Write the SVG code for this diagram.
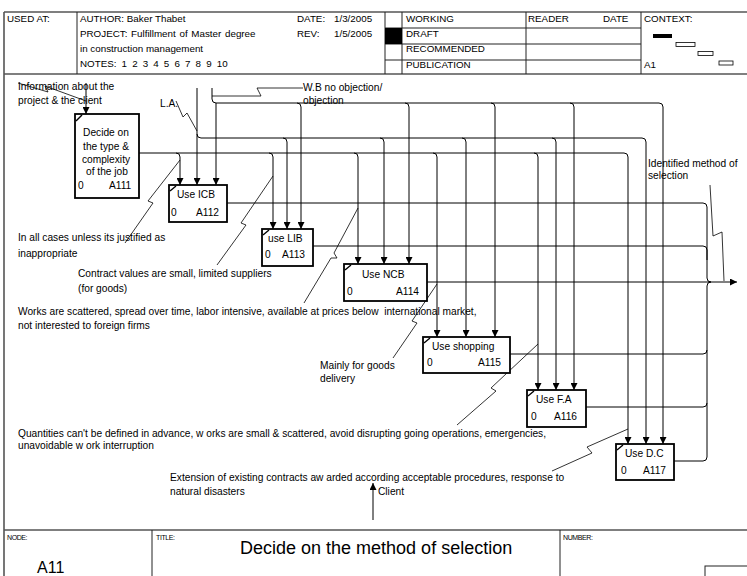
<svg xmlns="http://www.w3.org/2000/svg" width="747" height="576" viewBox="0 0 747 576">
  <defs>
    <style>
      text { font-family: "Liberation Sans", Arial, sans-serif; font-size: 10.2px; fill: #000; }
      .hd { font-size: 9.8px; }
      .sm { font-size: 7px; letter-spacing: -0.4px; }
      .frame { fill: none; stroke: #555; stroke-width: 1.6; }
      .grid { fill: none; stroke: #222; stroke-width: 1; }
      .box { fill: #fff; stroke: #000; stroke-width: 1.8; }
      .tick { stroke: #000; stroke-width: 1.4; }
      .ln { fill: none; stroke: #000; stroke-width: 1; }
      .ar { fill: none; stroke: #000; stroke-width: 1; marker-end: url(#ah); }
      .sq { fill: none; stroke: #000; stroke-width: 0.8; }
    </style>
    <marker id="ah" viewBox="0 0 10 10" refX="10" refY="5" markerUnits="userSpaceOnUse" markerWidth="9" markerHeight="7" orient="auto">
      <path d="M0,0 L10,5 L0,10 z" fill="#000"/>
    </marker>
    <clipPath id="clipNotes"><rect x="0" y="55" width="233" height="20"/></clipPath>
    <clipPath id="clipExt"><rect x="160" y="465" width="407" height="20"/></clipPath>
  </defs>

  <!-- header form -->
  <g id="header">
    <path class="frame" d="M4,12 H747 M4,74 H747 M4,12 V576"/>
    <path class="grid" d="M77,12 V74 M385,12 V74 M402,12 V74 M526,12 V74 M641,12 V74 M385,28 H641 M385,44 H641 M385,60 H641"/>
    <rect x="385" y="28" width="17" height="16" fill="#000"/>
    <text class="hd" x="7" y="21.5">USED AT:</text>
    <text class="hd" x="80" y="21.5">AUTHOR:  Baker Thabet</text>
    <text class="hd" x="80" y="36.5" word-spacing="1">PROJECT:  Fulfillment of Master degree</text>
    <text class="hd" x="80" y="51.5">in construction management</text>
    <text class="hd" x="80" y="67" clip-path="url(#clipNotes)" word-spacing="2.4">NOTES: 1 2 3 4 5 6 7 8 9 10</text>
    <text class="hd" x="297" y="21.5">DATE:</text>
    <text class="hd" x="334" y="21.5">1/3/2005</text>
    <text class="hd" x="297" y="36.5">REV:</text>
    <text class="hd" x="334" y="36.5">1/5/2005</text>
    <text class="hd" x="406" y="21.5">WORKING</text>
    <text class="hd" x="406" y="36.5">DRAFT</text>
    <text class="hd" x="406" y="52">RECOMMENDED</text>
    <text class="hd" x="406" y="68">PUBLICATION</text>
    <text class="hd" x="528" y="21.5">READER</text>
    <text class="hd" x="603" y="21.5">DATE</text>
    <text class="hd" x="644" y="21.5">CONTEXT:</text>
    <text class="hd" x="644" y="68">A1</text>
    <rect x="653" y="34" width="19" height="4" fill="#000"/>
    <rect x="676" y="42.5" width="19" height="4" fill="#fff" stroke="#000" stroke-width="0.8"/>
    <rect x="698" y="51.5" width="15" height="4" fill="#fff" stroke="#000" stroke-width="0.8"/>
    <rect x="719" y="61" width="14" height="4" fill="#fff" stroke="#000" stroke-width="0.8"/>
  </g>

  <!-- footer form -->
  <g id="footer">
    <path class="frame" d="M4,530 H747"/>
    <path class="grid" d="M152,530 V576 M560,530 V576"/>
    <rect x="705" y="566" width="45" height="14" fill="none" stroke="#222" stroke-width="1"/>
    <text class="sm" x="7" y="540">NODE:</text>
    <text class="sm" x="156" y="540">TITLE:</text>
    <text class="sm" x="563" y="540">NUMBER:</text>
    <text x="240" y="554" style="font-size:18px">Decide on the method of selection</text>
    <text x="37" y="573" style="font-size:16px">A11</text>
  </g>

  <!-- connectors -->
  <g id="connectors">
    <!-- input to A111 -->
    <path class="ar" d="M86,83 V114"/>
    <!-- W.B no objection control -->
    <path class="ar" d="M212,88 V99 Q212,103 216,103 H659 Q663,103 663,107 V444"/>
    <path class="ar" d="M216,103 V185"/>
    <path class="ar" d="M297,103 Q301,103 301,107 V229"/>
    <path class="ar" d="M405,103 Q409,103 409,107 V264"/>
    <path class="ar" d="M491,103 Q495,103 495,107 V337"/>
    <path class="ar" d="M570,103 Q574,103 574,107 V390"/>
    <!-- L.A. control -->
    <path class="ar" d="M197,88 V185"/>
    <path class="ar" d="M197,134 Q197,138 201,138 H642 Q646,138 646,142 V444"/>
    <path class="ar" d="M283,138 Q287,138 287,142 V229"/>
    <path class="ar" d="M380,138 Q384,138 384,142 V264"/>
    <path class="ar" d="M462,138 Q466,138 466,142 V337"/>
    <path class="ar" d="M552,138 Q556,138 556,142 V390"/>
    <!-- A111 output feeding the selection activities -->
    <path class="ar" d="M139,153 H624 Q628,153 628,157 V444"/>
    <path class="ar" d="M176,153 Q180,153 180,157 V185"/>
    <path class="ar" d="M269,153 Q273,153 273,157 V229"/>
    <path class="ar" d="M354,153 Q358,153 358,157 V264"/>
    <path class="ar" d="M433,153 Q437,153 437,157 V337"/>
    <path class="ar" d="M534,153 Q538,153 538,157 V390"/>
    <!-- outputs merging into the identified method -->
    <path class="ln" d="M227,203 H703 Q707,203 707,207 V278 Q707,282 711,282"/>
    <path class="ln" d="M313,246 H703 Q707,246 707,250 V260"/>
    <path class="ar" d="M427,282 H737"/>
    <path class="ln" d="M510,354 H703 Q707,354 707,350 V286 Q707,282 711,282"/>
    <path class="ln" d="M586,407 H703 Q707,407 707,403 V350"/>
    <path class="ln" d="M674,461 H703 Q707,461 707,457 V403"/>
    <!-- mechanism -->
    <path class="ar" d="M373,520 V483"/>
    <!-- label squiggles -->
    <path class="sq" d="M18,83 L48,92 L45,86 L86,101"/>
    <path class="sq" d="M176,101 L183,117 L187,113 L197,131"/>
    <path class="sq" d="M303,88 H257 L261,96 H212"/>
    <path class="sq" d="M710,185 L713,236 L722,232 L724,281"/>
    <path class="sq" d="M125,243 L153,203 L148,201 L180,160"/>
    <path class="sq" d="M217,265 L246,225 L241,223 L273,176"/>
    <path class="sq" d="M304,303 L331,258 L337,258 L334,253 L358,208"/>
    <path class="sq" d="M393,358 L417,323 L412,321 L437,284"/>
    <path class="sq" d="M457,425 L496,391 L491,388 L538,344"/>
    <path class="sq" d="M552,471 L592,453 L587,447 L628,429"/>
  </g>

  <!-- arrow labels -->
  <g id="labels">
    <text x="18" y="90">Information about the</text>
    <text x="18" y="104">project &amp; the client</text>
    <text x="160" y="106.5">L.A.</text>
    <text x="303" y="91">W.B no objection/</text>
    <text x="303" y="103.5">objection</text>
    <text x="648" y="167">Identified method of</text>
    <text x="648" y="178.5">selection</text>
    <text x="18" y="240.5">In all cases unless its justified as</text>
    <text x="18" y="256.5">inappropriate</text>
    <text x="78" y="276.5">Contract values are small, limited suppliers</text>
    <text x="78" y="291.5">(for goods)</text>
    <text x="18" y="314.5" xml:space="preserve">Works are scattered, spread over time, labor intensive, available at prices below  international market,</text>
    <text x="18" y="328.5">not interested to foreign firms</text>
    <text x="320" y="368.5">Mainly for goods</text>
    <text x="320" y="382">delivery</text>
    <text x="18" y="436.5">Quantities can't be defined in advance, w orks are small &amp; scattered, avoid disrupting going operations, emergencies,</text>
    <text x="18" y="448.5">unavoidable w ork interruption</text>
    <text x="170" y="480.5" clip-path="url(#clipExt)">Extension of existing contracts aw arded according acceptable procedures, response to</text>
    <text x="170" y="494.5">natural disasters</text>
    <text x="378" y="494.5">Client</text>
  </g>

  <!-- activity boxes -->
  <g id="A111">
    <rect class="box" x="75" y="114" width="64" height="84"/>
    <line class="tick" x1="76" y1="121" x2="82" y2="115"/>
    <text x="106" y="136" text-anchor="middle">Decide on</text>
    <text x="106" y="149.5" text-anchor="middle">the type &amp;</text>
    <text x="106" y="162.5" text-anchor="middle">complexity</text>
    <text x="107" y="175" text-anchor="middle">of the job</text>
    <text x="78" y="189">0</text>
    <text x="109" y="189">A111</text>
  </g>
  <g id="A112">
    <rect class="box" x="169" y="185" width="58" height="37"/>
    <line class="tick" x1="170" y1="191" x2="176" y2="186"/>
    <text x="177" y="197.5">Use ICB</text>
    <text x="171" y="215.5">0</text>
    <text x="196" y="215.5">A112</text>
  </g>
  <g id="A113">
    <rect class="box" x="262" y="229" width="51" height="37"/>
    <line class="tick" x1="263" y1="235" x2="269" y2="230"/>
    <text x="268" y="241.5">use LIB</text>
    <text x="265" y="257.5">0</text>
    <text x="282" y="257.5">A113</text>
  </g>
  <g id="A114">
    <rect class="box" x="344" y="264" width="83" height="37"/>
    <line class="tick" x1="345" y1="270" x2="351" y2="265"/>
    <text x="362" y="277.5">Use NCB</text>
    <text x="347" y="294.5">0</text>
    <text x="396" y="294.5">A114</text>
  </g>
  <g id="A115">
    <rect class="box" x="423" y="337" width="87" height="36"/>
    <line class="tick" x1="424" y1="343" x2="430" y2="338"/>
    <text x="432" y="349.5">Use shopping</text>
    <text x="427" y="365.5">0</text>
    <text x="478" y="365.5">A115</text>
  </g>
  <g id="A116">
    <rect class="box" x="527" y="390" width="59" height="37"/>
    <line class="tick" x1="528" y1="396" x2="534" y2="391"/>
    <text x="536" y="402.5">Use F.A</text>
    <text x="531" y="419.5">0</text>
    <text x="554" y="419.5">A116</text>
  </g>
  <g id="A117">
    <rect class="box" x="616" y="444" width="58" height="36"/>
    <line class="tick" x1="617" y1="450" x2="623" y2="445"/>
    <text x="625" y="456.5">Use D.C</text>
    <text x="621" y="473.5">0</text>
    <text x="643" y="473.5">A117</text>
  </g>
</svg>
